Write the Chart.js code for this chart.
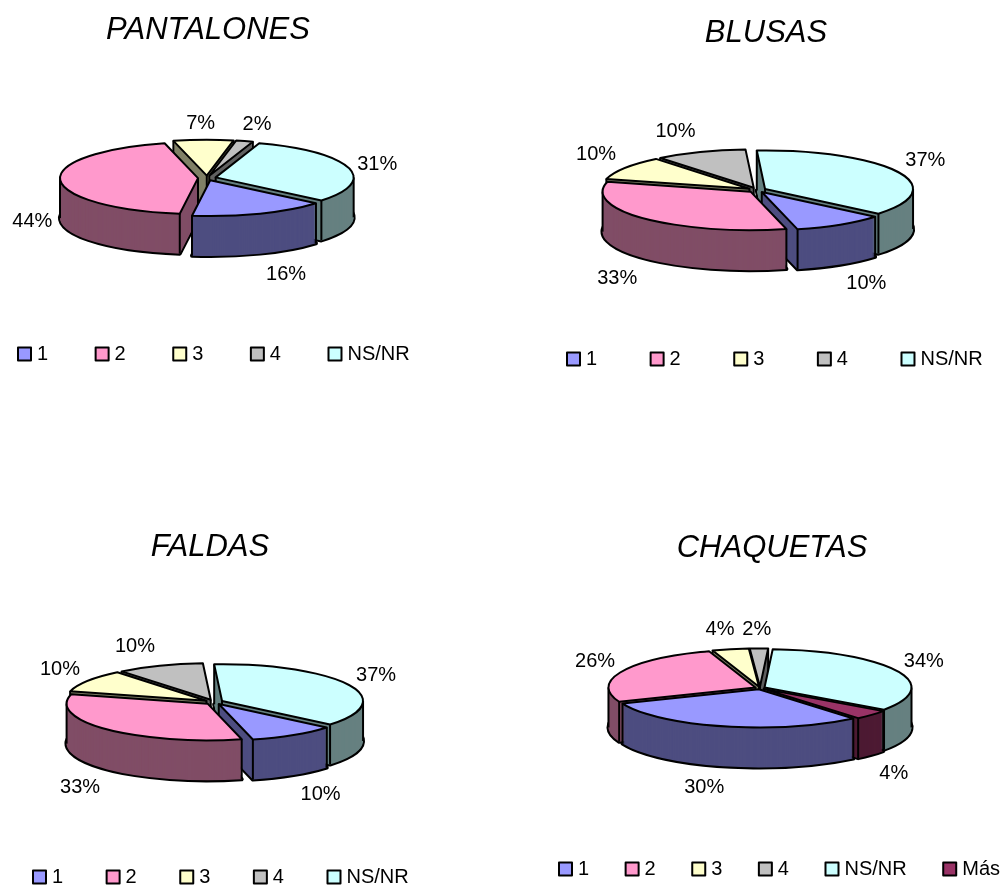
<!DOCTYPE html>
<html>
<head>
<meta charset="utf-8">
<title>Prendas</title>
<script src="https://cdn.jsdelivr.net/npm/chart.js@4"></script>
<style>
  body { margin: 0; background: #fff; }
  canvas { position: absolute; }
</style>
</head>
<body>
<canvas id="pantalones" style="left:0;top:0"></canvas>
<canvas id="blusas" style="left:530px;top:0"></canvas>
<canvas id="faldas" style="left:0;top:444px"></canvas>
<canvas id="chaquetas" style="left:542px;top:444px"></canvas>
<script>
// Categories
const categories = ["1", "2", "3", "4", "NS/NR"];
const categoriesMas = ["1", "2", "3", "4", "NS/NR", "Más"];

// Percentages per garment
const pantalonesValues = [16, 44, 7, 2, 31];
const blusasValues = [10, 33, 10, 10, 37];
const faldasValues = [10, 33, 10, 10, 37];
const chaquetasValues = [30, 26, 4, 2, 34, 4];

// Top faces and walls
const faceColors = ["#9999FF", "#FF99CC", "#FFFFCC", "#C0C0C0", "#CCFFFF", "#993366"];
const wallColors = ["#4D4D80", "#804D66", "#808066", "#606060", "#668080", "#4D1A33"];

const FONT = "'Liberation Sans', Arial, sans-serif";
const SQUASH = 0.26;
const DEPTH = 40;
const OUTLINE = 2;

// lowest point of a slice's rim, used for the painting order
function rimBottom(arc) {
  const a = arc.startAngle;
  const b = arc.endAngle;
  const passesBottom = [Math.PI / 2, Math.PI * 2.5, Math.PI * 4.5].some((t) => t > a && t < b);
  return passesBottom ? 1 : Math.max(Math.sin(a), Math.sin(b));
}

// 3D look: every arc is drawn squashed, with a stack of darker copies below it
const pie3d = {
  id: "pie3d",
  beforeDatasetsDraw(chart, args, opts) {
    const ctx = chart.ctx;
    const arcs = chart.getDatasetMeta(0).data.map((arc, i) => ({ arc, i, mid: (arc.startAngle + arc.endAngle) / 2 }));
    const place = (item, drop) => ({
      x: opts.cx + Math.cos(item.mid) * opts.explode,
      y: opts.cy + Math.sin(item.mid) * opts.explode * SQUASH + drop,
    });
    const drawArc = (item, color, drop) => {
      const p = place(item, drop);
      const saved = item.arc.options;
      item.arc.options = { ...saved, backgroundColor: color, borderWidth: 0 };
      ctx.save();
      ctx.translate(p.x, p.y);
      ctx.scale(1, SQUASH);
      ctx.translate(-item.arc.x, -item.arc.y);
      item.arc.draw(ctx);
      ctx.restore();
      item.arc.options = saved;
    };
    const strokeOutline = (item, drop, width) => {
      const p = place(item, drop);
      ctx.save();
      ctx.beginPath();
      ctx.translate(p.x, p.y);
      ctx.scale(1, SQUASH);
      ctx.moveTo(0, 0);
      ctx.arc(0, 0, item.arc.outerRadius, item.arc.startAngle, item.arc.endAngle);
      ctx.closePath();
      ctx.restore();
      ctx.lineWidth = width;
      ctx.lineJoin = "round";
      ctx.strokeStyle = "#000";
      ctx.stroke();
    };
    const edge = (item, angle) => {
      const p = place(item, 0);
      const x = p.x + Math.cos(angle) * item.arc.outerRadius;
      const y = p.y + Math.sin(angle) * item.arc.outerRadius * SQUASH;
      ctx.beginPath();
      ctx.moveTo(x, y);
      ctx.lineTo(x, y + DEPTH);
      ctx.lineWidth = OUTLINE;
      ctx.strokeStyle = "#000";
      ctx.stroke();
    };

    // back slices first
    arcs.sort((a, b) => rimBottom(a.arc) - rimBottom(b.arc));
    arcs.forEach((item) => {
      const { startAngle: a, endAngle: b } = item.arc;
      strokeOutline(item, DEPTH, OUTLINE * 2);
      for (let d = DEPTH; d > 0; d--) drawArc(item, wallColors[item.i], d);

      const startWall = Math.cos(a) < 0;
      const endWall = Math.cos(b) > 0;
      if (startWall || Math.sin(a) > 0) edge(item, a);
      if (endWall || Math.sin(b) > 0) edge(item, b);
      if (startWall || endWall) {
        const p = place(item, 0);
        ctx.beginPath();
        ctx.moveTo(p.x, p.y);
        ctx.lineTo(p.x, p.y + DEPTH);
        ctx.lineWidth = OUTLINE;
        ctx.stroke();
      }
      // left and right extremes of the rim
      [0, Math.PI, 2 * Math.PI, 3 * Math.PI].forEach((t) => {
        if (t > a && t < b) edge(item, t);
      });
      drawArc(item, faceColors[item.i], 0);
      strokeOutline(item, 0, OUTLINE);
    });

    // percentage labels around the rim
    ctx.fillStyle = "#000";
    ctx.font = "20px " + FONT;
    ctx.textAlign = "center";
    ctx.textBaseline = "middle";
    arcs.forEach((item) => {
      const x = opts.cx + Math.cos(item.mid) * opts.labelX + opts.labelDx[item.i];
      const y = opts.cy + Math.sin(item.mid) * opts.labelY + (Math.sin(item.mid) > 0 ? DEPTH : 0) + opts.labelDy[item.i];
      ctx.fillText(chart.data.datasets[0].data[item.i] + "%", x, y);
    });

    // legend row
    let x = opts.legendX;
    ctx.textAlign = "left";
    chart.data.labels.forEach((label, i) => {
      ctx.fillStyle = faceColors[i];
      ctx.strokeStyle = "#000";
      ctx.lineWidth = 2;
      ctx.fillRect(x, opts.legendY - 6.5, 13, 13);
      ctx.strokeRect(x, opts.legendY - 6.5, 13, 13);
      ctx.fillStyle = "#000";
      ctx.fillText(label, x + 19, opts.legendY + 0.5);
      x += 19 + ctx.measureText(label).width + opts.legendGap;
    });
    return false;
  },
};

function garmentChart(id, text, labels, values, size, titleTop, rotation, radius, pie) {
  const canvas = document.getElementById(id);
  canvas.width = size;
  canvas.height = 444;
  return new Chart(canvas, {
    type: "pie",
    data: {
      labels: labels,
      datasets: [{ data: values, backgroundColor: faceColors.slice(0, values.length) }],
    },
    options: {
      responsive: false,
      animation: false,
      rotation: rotation,
      radius: radius,
      plugins: {
        legend: { display: false },
        tooltip: { enabled: false },
        title: {
          display: true,
          text: text,
          color: "#000",
          font: { family: FONT, size: 31, style: "italic", weight: "normal" },
          padding: { top: titleTop, bottom: 0 },
        },
        pie3d: pie,
      },
    },
    plugins: [pie3d],
  });
}

garmentChart("pantalones", "PANTALONES", categories, pantalonesValues, 416, 12, 130, 138,
  { cx: 207, cy: 178, explode: 9, labelX: 180, labelY: 57, labelDx: [14, 5, -2, 4, -3], labelDy: [3, 0, 2, 2, 2],
    legendX: 18, legendY: 354, legendGap: 47.5 });
garmentChart("blusas", "BLUSAS", categories, blusasValues, 472, 15, 130, 148,
  { cx: 227, cy: 190, explode: 9, labelX: 195, labelY: 65, labelDx: [6, -1, 3, -11, -6], labelDy: [-2, 3, 0, 2, 0],
    legendX: 37, legendY: 359, legendGap: 53.5 });
garmentChart("faldas", "FALDAS", categories, faldasValues, 420, 85, 130, 141,
  { cx: 214, cy: 258, explode: 9, labelX: 188, labelY: 62, labelDx: [7, 0, 4, -11, -6], labelDy: [0, 2, 1, 2, 1],
    legendX: 33, legendY: 433, legendGap: 43.5 });
garmentChart("chaquetas", "CHAQUETAS", categoriesMas, chaquetasValues, 460, 86, 140, 147,
  { cx: 218, cy: 244, explode: 5, labelX: 185, labelY: 62, labelDx: [-11, 3, -4, -2, -3, -2], labelDy: [-1, -1, 2, 3, 0, 3],
    legendX: 17, legendY: 425, legendGap: 36.5 });
</script>
</body>
</html>
